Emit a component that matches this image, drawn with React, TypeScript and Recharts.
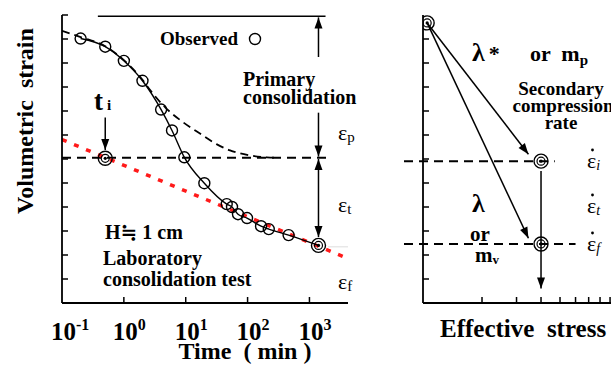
import React from 'react';
import { ComposedChart, Line, Scatter, XAxis, YAxis, ReferenceLine } from 'recharts';

// ---- Left panel data (time in min, volumetric strain in arbitrary units, increasing downward)
const obsTime = [0.2, 0.5, 1, 2, 4, 6, 9.5, 20, 46, 56, 70, 98, 165, 220, 460];
const obsStrain = [0.98, 1.32, 1.91, 2.74, 3.94, 4.81, 5.93, 7.01, 7.88, 8.0, 8.3, 8.46, 8.8, 8.92, 9.17];
const finalTime = 1400;
const finalStrain = 9.6;
const tiTime = 0.5;
const tiStrain = 5.97;
const primaryTime = [0.1, 0.2, 0.5, 1, 2, 2.7, 4.7, 9.2, 17, 32, 52, 109, 205, 300];
const primaryStrain = [0.66, 0.92, 1.3, 1.88, 2.7, 3.15, 3.86, 4.48, 4.94, 5.39, 5.64, 5.85, 5.93, 5.95];
const secondaryTime = [0.1, 4200];
const secondaryStrain = [5.19, 10.15];
const eopStrain = 5.95;
const eopTimeRange = [0.1, 1900];
const topLineTime = [0.38, 1820];
const topLineStrain = 0.05;
const arrowTime = 1400;
const timeTicks = [0.1, 1, 10, 100, 1000];
const timeTickExp = ['-1', '0', '1', '2', '3'];
const strainTicks = [0, 1, 2, 3, 4, 5, 6, 7, 8, 9, 10, 11];

// ---- Right panel data (effective stress, log)
const startStress = 1.05;
const startStrain = 0.33;
const pointStress = 4;
const rateStrainI = 6.09;
const rateStrainF = 9.54;
const arrowTipStress = 3.45;
const arrowTipStrainI = 5.8;
const arrowTipStrainF = 9.3;
const stressTicks = [2, 3, 4, 5, 6, 7, 8, 9];
const rightStrainTicks = [1, 2, 3, 4, 5, 6, 7, 8, 9, 10, 11];

const SERIF = "'Liberation Serif', 'Times New Roman', 'DejaVu Serif', serif";

const obsData = obsTime.map((t, i) => ({ t, s: obsStrain[i] }));
const solidData = [...obsData, { t: finalTime, s: finalStrain }];
const primaryData = primaryTime.map((t, i) => ({ t, s: primaryStrain[i] }));
const secondaryData = secondaryTime.map((t, i) => ({ t, s: secondaryStrain[i] }));
const doubleData = [{ t: tiTime, s: tiStrain }, { t: finalTime, s: finalStrain }];
const rightDoubleData = [
  { x: startStress, s: startStrain },
  { x: pointStress, s: rateStrainI },
  { x: pointStress, s: rateStrainF },
];

const head = (x: number, y: number, fx: number, fy: number, len = 11, w = 4) => {
  const dx = x - fx;
  const dy = y - fy;
  const d = Math.sqrt(dx * dx + dy * dy) || 1;
  const ux = dx / d;
  const uy = dy / d;
  const bx = x - ux * len;
  const by = y - uy * len;
  const px = -uy * w;
  const py = ux * w;
  return `${x},${y} ${bx + px},${by + py} ${bx - px},${by - py}`;
};

const arrowShape = (mode: 'end' | 'both') => (p: any) => {
  const { x1, y1, x2, y2 } = p;
  return (
    <g>
      <line x1={x1} y1={y1} x2={x2} y2={y2} stroke="#000" strokeWidth={1.5} />
      <polygon points={head(x2, y2, x1, y1)} fill="#000" />
      {mode === 'both' && <polygon points={head(x1, y1, x2, y2)} fill="#000" />}
    </g>
  );
};

// inward tick marks
const yTickShape = (p: any) => {
  const x = Math.min(p.x1, p.x2);
  return <line x1={x} x2={x + 6} y1={p.y1} y2={p.y1} stroke="#000" strokeWidth={1.5} />;
};
const xTickShape = (p: any) => {
  const y = Math.max(p.y1, p.y2);
  return <line x1={p.x1} x2={p.x1} y1={y} y2={y - 6} stroke="#000" strokeWidth={1.5} />;
};

const hollow = (p: any) => (
  <circle cx={p.cx} cy={p.cy} r={5.5} fill="none" stroke="#000" strokeWidth={1.4} />
);
const doubleCircle = (p: any) => (
  <g>
    <circle cx={p.cx} cy={p.cy} r={7} fill="none" stroke="#000" strokeWidth={1.4} />
    <circle cx={p.cx} cy={p.cy} r={4} fill="none" stroke="#000" strokeWidth={1.2} />
    <circle cx={p.cx} cy={p.cy} r={1.6} fill="#000" />
  </g>
);

const TimeTick = (props: any) => {
  const { x, y, payload } = props;
  const idx = timeTicks.indexOf(payload.value);
  return (
    <text x={x - 11} y={y + 37} fontFamily={SERIF} fontSize={25} fontWeight="bold" fill="#000">
      10
      <tspan fontSize={16} dy={-10}>{timeTickExp[idx]}</tspan>
    </text>
  );
};

const axisStyle = { stroke: '#000', strokeWidth: 1.8 };

const bold = { fontFamily: SERIF, fontWeight: 'bold' as const, fill: '#000' };
const reg = { fontFamily: SERIF, fill: '#000' };

const EDot = ({ x, y, sub }: { x: number; y: number; sub: string }) => (
  <g>
    <text {...reg} fontSize={22} x={x} y={y}>ε<tspan fontSize={14} fontStyle="italic" dy={2}>{sub}</tspan></text>
    <circle cx={x + 5.5} cy={y - 18} r={1.4} fill="#000" />
  </g>
);

export default function App() {
  return (
    <div style={{ position: 'absolute', left: 0, top: 0, width: 611, height: 365, overflow: 'hidden', background: '#fff' }}>
      {/* Left panel */}
      <ComposedChart width={611} height={365} margin={{ top: 15, right: 263, bottom: 12, left: 12 }} style={{ position: 'absolute', left: 0, top: 0 }}>
        <XAxis type="number" dataKey="t" scale="log" domain={[0.1, 4200]} allowDataOverflow ticks={timeTicks} interval={0}
          tickSize={0} tickMargin={0} height={50} axisLine={axisStyle} tickLine={false} tick={<TimeTick />} />
        <YAxis type="number" dataKey="s" reversed domain={[0, 12]} allowDataOverflow ticks={strainTicks} interval={0}
          tickSize={0} width={50} tick={false} axisLine={axisStyle} tickLine={false} />
        {strainTicks.map((v) => (
          <ReferenceLine key={`ly${v}`} y={v} shape={yTickShape} ifOverflow="visible" />
        ))}
        {timeTicks.slice(1).map((v) => (
          <ReferenceLine key={`lx${v}`} x={v} shape={xTickShape} ifOverflow="visible" />
        ))}
        <ReferenceLine segment={[{ x: topLineTime[0], y: topLineStrain }, { x: topLineTime[1], y: topLineStrain }]} stroke="#000" strokeWidth={1.5} ifOverflow="visible" />
        <ReferenceLine segment={[{ x: eopTimeRange[0], y: eopStrain }, { x: eopTimeRange[1], y: eopStrain }]} stroke="#000" strokeWidth={2} strokeDasharray="9 6" ifOverflow="visible" />
        <ReferenceLine segment={[{ x: 2000, y: finalStrain + 0.06 }, { x: 4200, y: finalStrain + 0.06 }]} stroke="#ddd" strokeWidth={1} ifOverflow="visible" />
        <Line data={secondaryData} dataKey="s" type="linear" stroke="#ff1a1a" strokeWidth={3.5} strokeDasharray="5 8" dot={false} isAnimationActive={false} />
        <Line data={primaryData} dataKey="s" type="monotone" stroke="#000" strokeWidth={1.8} strokeDasharray="8 5" dot={false} isAnimationActive={false} />
        <Line data={solidData} dataKey="s" type="monotone" stroke="#000" strokeWidth={1.4} dot={false} isAnimationActive={false} />
        <Scatter data={obsData} shape={hollow} isAnimationActive={false} />
        <Scatter data={doubleData} shape={doubleCircle} isAnimationActive={false} />
        {/* arrows */}
        <ReferenceLine segment={[{ x: tiTime, y: 4.27 }, { x: tiTime, y: 5.62 }]} shape={arrowShape('end')} ifOverflow="visible" />
        <ReferenceLine segment={[{ x: arrowTime, y: 1.75 }, { x: arrowTime, y: 0.1 }]} shape={arrowShape('end')} ifOverflow="visible" />
        <ReferenceLine segment={[{ x: arrowTime, y: 4.07 }, { x: arrowTime, y: 5.9 }]} shape={arrowShape('end')} ifOverflow="visible" />
        <ReferenceLine segment={[{ x: arrowTime, y: 6.0 }, { x: arrowTime, y: 9.25 }]} shape={arrowShape('both')} ifOverflow="visible" />
      </ComposedChart>

      {/* Right panel */}
      <ComposedChart width={611} height={365} margin={{ top: 15, right: 0, bottom: 12, left: 373 }} style={{ position: 'absolute', left: 0, top: 0 }}>
        <XAxis type="number" dataKey="x" scale="log" domain={[1, 9.1]} allowDataOverflow ticks={stressTicks} interval={0}
          tickSize={0} height={50} tick={false} axisLine={axisStyle} tickLine={false} />
        <YAxis type="number" dataKey="s" reversed domain={[0, 12]} allowDataOverflow ticks={rightStrainTicks} interval={0}
          tickSize={0} width={50} tick={false} axisLine={axisStyle} tickLine={false} />
        {rightStrainTicks.map((v) => (
          <ReferenceLine key={`ry${v}`} y={v} shape={yTickShape} ifOverflow="visible" />
        ))}
        {stressTicks.map((v) => (
          <ReferenceLine key={`rx${v}`} x={v} shape={xTickShape} ifOverflow="visible" />
        ))}
        <ReferenceLine segment={[{ x: 0.8, y: rateStrainI }, { x: 4.7, y: rateStrainI }]} stroke="#000" strokeWidth={2} strokeDasharray="9 6" ifOverflow="visible" />
        <ReferenceLine segment={[{ x: 0.8, y: rateStrainF }, { x: 6, y: rateStrainF }]} stroke="#000" strokeWidth={2} strokeDasharray="9 6" ifOverflow="visible" />
        <ReferenceLine segment={[{ x: startStress, y: startStrain }, { x: arrowTipStress, y: arrowTipStrainI }]} shape={arrowShape('end')} ifOverflow="visible" />
        <ReferenceLine segment={[{ x: startStress, y: startStrain }, { x: arrowTipStress, y: arrowTipStrainF }]} shape={arrowShape('end')} ifOverflow="visible" />
        <ReferenceLine segment={[{ x: pointStress, y: 6.5 }, { x: pointStress, y: 11.4 }]} shape={arrowShape('end')} ifOverflow="visible" />
        <Scatter data={rightDoubleData} shape={doubleCircle} isAnimationActive={false} />
      </ComposedChart>

      {/* Text annotations */}
      <svg width={611} height={365} style={{ position: 'absolute', left: 0, top: 0, pointerEvents: 'none' }}>
        <text {...bold} fontSize={24} transform="translate(33,121) rotate(-90)" textAnchor="middle" style={{ whiteSpace: 'pre' }}>Volumetric  strain</text>
        <text {...bold} fontSize={24} x={245} y={359} textAnchor="middle" style={{ whiteSpace: 'pre' }}>Time  ( min )</text>
        <text {...bold} fontSize={19} x={160} y={45}>Observed</text>
        <circle cx={255} cy={39} r={5.5} fill="none" stroke="#000" strokeWidth={1.4} />
        <text {...bold} fontSize={20} x={243} y={86}>Primary</text>
        <text {...bold} fontSize={20} x={243} y={104}>consolidation</text>
        <text {...bold} fontSize={27} x={94} y={110}>t<tspan fontSize={15} dx={4}>i</tspan></text>
        <text {...bold} fontSize={20} x={105} y={239}>H≒ 1 cm</text>
        <text {...bold} fontSize={20} x={103} y={265}>Laboratory</text>
        <text {...bold} fontSize={20} x={103} y={286}>consolidation test</text>
        <text {...reg} fontSize={22} x={338} y={140}>ε<tspan fontSize={15} dy={2}>p</tspan></text>
        <text {...reg} fontSize={22} x={338} y={212}>ε<tspan fontSize={15} dy={2}>t</tspan></text>
        <text {...reg} fontSize={22} x={338} y={289}>ε<tspan fontSize={15} dy={2}>f</tspan></text>

        <text {...bold} fontSize={26} x={472} y={61}>λ<tspan dx={4} fontSize={22}>*</tspan></text>
        <text {...bold} fontSize={22} x={530} y={61} style={{ whiteSpace: 'pre' }}>or  m<tspan fontSize={15} dy={4}>p</tspan></text>
        <text {...bold} fontSize={19} x={561} y={95} textAnchor="middle">Secondary</text>
        <text {...bold} fontSize={19} x={563} y={112} textAnchor="middle">compression</text>
        <text {...bold} fontSize={19} x={561} y={129} textAnchor="middle">rate</text>
        <EDot x={587} y={168} sub="i" />
        <EDot x={587} y={213} sub="t" />
        <EDot x={587} y={251} sub="f" />
        <text {...bold} fontSize={26} x={472} y={212}>λ</text>
        <text {...bold} fontSize={21} x={470} y={241}>or</text>
        <text {...bold} fontSize={21} x={475} y={262}>m<tspan fontSize={13} dy={2}>v</tspan></text>
        <text {...bold} fontSize={25} x={440} y={337} style={{ whiteSpace: 'pre' }}>Effective  stress</text>
      </svg>
    </div>
  );
}
